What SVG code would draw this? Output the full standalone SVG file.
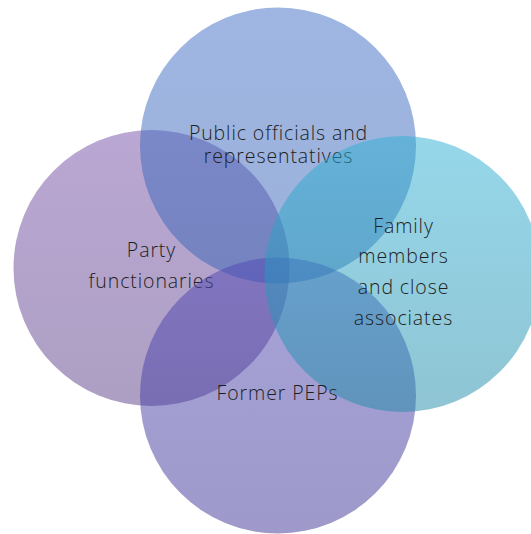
<svg xmlns="http://www.w3.org/2000/svg" width="531" height="534" viewBox="0 0 531 534">
<defs>
<linearGradient id="gLeft" x1="0" y1="0" x2="0" y2="1"><stop offset="0" stop-color="#7550a8"/><stop offset="1" stop-color="#5b4088"/></linearGradient>
<linearGradient id="gTop" x1="0" y1="0" x2="0" y2="1"><stop offset="0" stop-color="#3f6dc6"/><stop offset="1" stop-color="#3763b4"/></linearGradient>
<linearGradient id="gBottom" x1="0" y1="0" x2="0" y2="1"><stop offset="0" stop-color="#4f47b4"/><stop offset="1" stop-color="#3d3494"/></linearGradient>
<linearGradient id="gRight" x1="0" y1="0" x2="0" y2="1"><stop offset="0" stop-color="#2db0d4"/><stop offset="1" stop-color="#1f8aa8"/></linearGradient>
</defs>
<style>
.c{fill-opacity:0.5;stroke:none}
.t{font-family:"Open Sans",Lato,"Liberation Sans",sans-serif;font-size:19.5px;font-weight:300;letter-spacing:0.9px;fill:#1e1e1e;text-anchor:middle}
</style>
<rect width="531" height="534" fill="#ffffff"/>
<g id="left">
<circle class="c" cx="151.5" cy="268" r="138" fill="url(#gLeft)"/>
<text class="t" x="151.5" y="257">Party</text>
<text class="t" x="151.5" y="288">functionaries</text>
</g>
<g id="top">
<circle class="c" cx="278" cy="145.5" r="138" fill="url(#gTop)"/>
<text class="t" x="278.5" y="140">Public officials and</text>
<text class="t" x="278.5" y="163">representatives</text>
</g>
<g id="bottom">
<circle class="c" cx="278" cy="395.5" r="138" fill="url(#gBottom)"/>
</g>
<g id="right">
<circle class="c" cx="402.5" cy="274" r="138" fill="url(#gRight)"/>
<text class="t" x="403.5" y="233">Family</text>
<text class="t" x="403.5" y="263">members</text>
<text class="t" x="403.5" y="294">and close</text>
<text class="t" x="403.5" y="325">associates</text>
</g>
<g id="bottom-label">
<text class="t" x="277.5" y="400">Former PEPs</text>
</g>
<g id="connectors"/>
</svg>
